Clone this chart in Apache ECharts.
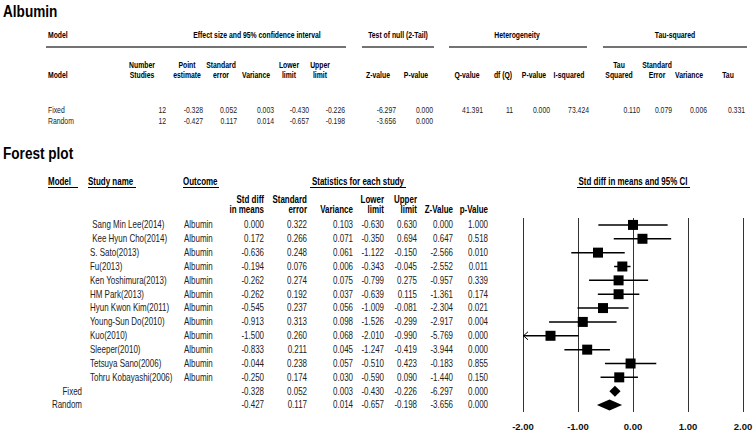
<!DOCTYPE html>
<html><head><meta charset="utf-8">
<script src="https://cdn.jsdelivr.net/npm/echarts@6/dist/echarts.min.js"></script>
<style>html,body{margin:0;padding:0;background:#fff}#c{width:756px;height:434px}</style>
</head><body><div id="c"></div>
<script>
// ---------------- data ----------------
const studyNames = [' Sang Min Lee(2014)', ' Kee Hyun Cho(2014)', 'S. Sato(2013)', 'Fu(2013)', 'Ken Yoshimura(2013)', 'HM Park(2013)', 'Hyun Kwon Kim(2011)', 'Young-Sun Do(2010)', 'Kuo(2010)', 'Sleeper(2010)', 'Tetsuya Sano(2006)', 'Tohru Kobayashi(2006)'];
const outcomes = ['Albumin', 'Albumin', 'Albumin', 'Albumin', 'Albumin', 'Albumin', 'Albumin', 'Albumin', 'Albumin', 'Albumin', 'Albumin', 'Albumin'];
const stdDiff = [0.000, 0.172, -0.636, -0.194, -0.262, -0.262, -0.545, -0.913, -1.500, -0.833, -0.044, -0.250];
const stdErr = [0.322, 0.266, 0.248, 0.076, 0.274, 0.192, 0.237, 0.313, 0.260, 0.211, 0.238, 0.174];
const variance = [0.103, 0.071, 0.061, 0.006, 0.075, 0.037, 0.056, 0.098, 0.068, 0.045, 0.057, 0.030];
const lowerLimit = [-0.630, -0.350, -1.122, -0.343, -0.799, -0.639, -1.009, -1.526, -2.010, -1.247, -0.510, -0.590];
const upperLimit = [0.630, 0.694, -0.150, -0.045, 0.275, 0.115, -0.081, -0.299, -0.990, -0.419, 0.423, 0.090];
const zValue = [0.000, 0.647, -2.566, -2.552, -0.957, -1.361, -2.304, -2.917, -5.769, -3.944, -0.183, -1.440];
const pValue = [1.000, 0.518, 0.010, 0.011, 0.339, 0.174, 0.021, 0.004, 0.000, 0.000, 0.855, 0.150];

const modelNames = ['Fixed', 'Random'];
const modelStudies = [12, 12];
const modelPoint = [-0.328, -0.427];
const modelSE = [0.052, 0.117];
const modelVar = [0.003, 0.014];
const modelLower = [-0.430, -0.657];
const modelUpper = [-0.226, -0.198];
const modelZ = [-6.297, -3.656];
const modelP = [0.000, 0.000];
const heteroValues = [41.391, 11, 0.000, 73.424];     // Q, df, P, I-squared
const tauValues = [0.110, 0.079, 0.006, 0.331];       // Tau^2, SE, Variance, Tau

const axisTickValues = [-2, -1, 0, 1, 2];
const axisTickLabels = ['-2.00', '-1.00', '0.00', '1.00', '2.00'];

const summaryTitle = 'Albumin';
const forestTitle = 'Forest plot';
const summaryGroupHeaders = ['Model', 'Effect size and 95% confidence interval', 'Test of null (2-Tail)', 'Heterogeneity', 'Tau-squared'];
const summaryColHeaders = [['Number', 'Studies'], ['Point', 'estimate'], ['Standard', 'error'], ['Variance'], ['Lower', 'limit'], ['Upper', 'limit'], ['Z-value'], ['P-value'], ['Q-value'], ['df (Q)'], ['P-value'], ['I-squared'], ['Tau', 'Squared'], ['Standard', 'Error'], ['Variance'], ['Tau']];
const forestGroupHeaders = ['Model', 'Study name', 'Outcome', 'Statistics for each study', 'Std diff in means and 95% CI'];
const forestColHeaders = [['Std diff', 'in means'], ['Standard', 'error'], ['Variance'], ['Lower', 'limit'], ['Upper', 'limit'], ['Z-Value'], ['p-Value']];

// ---------------- layout ----------------
const FF = '"Liberation Sans", Arial, Helvetica, sans-serif';
function T(x, y, text, size, bold, align, color, sx) {
  return { type: 'text', x: x, y: y, scaleX: sx || 0.8, silent: true, z: 10,
    style: { text: text, x: 0, y: 0, fontSize: size, fontWeight: bold ? 'bold' : 'normal', fontFamily: FF,
      fill: color || (bold ? '#000' : '#222'), align: align || 'left', verticalAlign: 'middle' } };
}
function L(x1, y1, x2, y2, w, color) {
  return { type: 'line', silent: true, shape: { x1: x1, y1: y1, x2: x2, y2: y2 }, style: { stroke: color || '#000', lineWidth: w || 1 } };
}
const f3 = v => v.toFixed(3);
const TS = 9.5, TSX = 0.72;     // summary table font
const FS = 10.5, FSX = 0.76;    // forest table font

const g = [];
// summary table
g.push(T(3, 11, summaryTitle, 17, true, 'left', '#000', 0.8));
const sgX = [48, 257, 398, 517, 675];
const sgAlign = ['left', 'center', 'center', 'center', 'center'];
summaryGroupHeaders.forEach((h, i) => g.push(T(sgX[i], 35, h, TS, true, sgAlign[i], '#000', TSX)));
[[46, 346], [362, 434], [449, 587], [603, 747]].forEach(s => g.push(L(s[0], 47, s[1], 47, 1.5, '#444')));
g.push(T(48, 75, 'Model', TS, true, 'left', '#000', TSX));
const scX = [142, 187, 221, 256, 289, 320, 378, 416, 467, 503, 534, 569, 619, 657, 689, 728];
summaryColHeaders.forEach((h, i) => {
  if (h.length === 2) { g.push(T(scX[i], 65, h[0], TS, true, 'center', '#000', TSX)); g.push(T(scX[i], 75.5, h[1], TS, true, 'center', '#000', TSX)); }
  else g.push(T(scX[i], 75.5, h[0], TS, true, 'center', '#000', TSX));
});
const srX = [166, 203, 237, 274, 309, 345, 396, 433, 483, 513, 550, 589, 640, 672, 707, 745];
const rowY = [110.5, 121];
modelNames.forEach((m, j) => {
  g.push(T(48, rowY[j], m, TS, false, 'left', '#222', TSX));
  const vals = [String(modelStudies[j]), f3(modelPoint[j]), f3(modelSE[j]), f3(modelVar[j]), f3(modelLower[j]), f3(modelUpper[j]), f3(modelZ[j]), f3(modelP[j])];
  if (j === 0) {
    vals.push(f3(heteroValues[0]), String(heteroValues[1]), f3(heteroValues[2]), f3(heteroValues[3]));
    tauValues.forEach(v => vals.push(f3(v)));
  }
  vals.forEach((v, k) => g.push(T(srX[k], rowY[j], v, TS, false, 'right', '#222', TSX)));
});

// forest headers
g.push(T(3, 153, forestTitle, 17, true, 'left', '#000', 0.8));
const fgX = [48, 88, 183, 358, 633];
const fgAlign = ['left', 'left', 'left', 'center', 'center'];
forestGroupHeaders.forEach((h, i) => g.push(T(fgX[i], 181.5, h, FS, true, fgAlign[i], '#000', FSX)));
[[48, 78], [88, 136], [183, 219], [310, 406], [577, 690]].forEach(s => g.push(L(s[0], 187.5, s[1], 187.5, 1, '#000')));
const colRight = [264, 307, 353, 384, 417, 453, 488];
forestColHeaders.forEach((h, i) => {
  if (h.length === 2) { g.push(T(colRight[i], 199.5, h[0], FS, true, 'right', '#000', FSX)); g.push(T(colRight[i], 209.5, h[1], FS, true, 'right', '#000', FSX)); }
  else g.push(T(colRight[i], 209.5, h[0], FS, true, 'right', '#000', FSX));
});

// forest table rows (positioned on the chart's row axis)
const forestRows = studyNames.map((n, i) => ({ label: n, outcome: outcomes[i], model: false,
  vals: [stdDiff[i], stdErr[i], variance[i], lowerLimit[i], upperLimit[i], zValue[i], pValue[i]] }))
  .concat(modelNames.map((n, j) => ({ label: n, outcome: '', model: true,
  vals: [modelPoint[j], modelSE[j], modelVar[j], modelLower[j], modelUpper[j], modelZ[j], modelP[j]] })));

const chart = echarts.init(document.getElementById('c'), null, { renderer: 'svg' });
const axisMin = axisTickValues[0], axisMax = axisTickValues[axisTickValues.length - 1];

chart.setOption({
  animation: false,
  backgroundColor: '#fff',
  graphic: { elements: g },
  grid: { left: 523, right: 13, top: 218, height: 194 },
  xAxis: { type: 'value', min: axisMin, max: axisMax, interval: 1,
    axisLine: { show: false }, axisTick: { show: false },
    splitLine: { show: true, lineStyle: { color: '#333', width: 1 } },
    axisLabel: { margin: 9, fontSize: 9.5, fontWeight: 'bold', fontFamily: FF, color: '#111',
      formatter: v => axisTickLabels[axisTickValues.indexOf(Math.round(v))] } },
  yAxis: { type: 'value', min: -0.5, max: forestRows.length - 0.5, inverse: true, show: false },
  series: [
    { type: 'custom', name: 'table', silent: true, clip: false,
      data: forestRows.map((r, i) => [0, i]),
      renderItem: (params, api) => {
        const i = params.dataIndex, r = forestRows[i];
        const y = api.coord([0, i])[1];
        const ch = [];
        if (r.model) ch.push(T(82, y, r.label, FS, false, 'right', '#222', FSX));
        else { ch.push(T(90, y, r.label, FS, false, 'left', '#222', FSX)); ch.push(T(184, y, r.outcome, FS, false, 'left', '#222', FSX)); }
        r.vals.forEach((v, k) => ch.push(T(colRight[k], y, f3(v), FS, false, 'right', '#222', FSX)));
        return { type: 'group', children: ch };
      } },
    { type: 'custom', name: 'ci', silent: true, clip: false,
      data: studyNames.map((n, i) => [lowerLimit[i], upperLimit[i], i]),
      renderItem: (params, api) => {
        const lo = api.value(0), hi = api.value(1), row = api.value(2);
        const p1 = api.coord([Math.max(lo, axisMin), row]);
        const p2 = api.coord([Math.min(hi, axisMax), row]);
        const ch = [{ type: 'line', shape: { x1: p1[0], y1: p1[1], x2: p2[0], y2: p2[1] }, style: { stroke: '#000', lineWidth: 1.5 } }];
        if (lo < axisMin) ch.push({ type: 'polyline', shape: { points: [[p1[0] + 5, p1[1] - 4], [p1[0] + 0.5, p1[1]], [p1[0] + 5, p1[1] + 4]] }, style: { stroke: '#000', lineWidth: 1, fill: null } });
        return { type: 'group', children: ch };
      } },
    { type: 'scatter', name: 'effect', silent: true, symbol: 'rect', symbolSize: 10, z: 5,
      itemStyle: { color: '#000', opacity: 1 },
      data: studyNames.map((n, i) => [stdDiff[i], i]) },
    { type: 'custom', name: 'summary', silent: true, clip: false,
      data: modelNames.map((n, j) => [modelLower[j], modelPoint[j], modelUpper[j], studyNames.length + j]),
      renderItem: (params, api) => {
        const row = api.value(3);
        const a = api.coord([api.value(0), row]), b = api.coord([api.value(1), row]), c = api.coord([api.value(2), row]);
        const h = 5.5;
        return { type: 'polygon', shape: { points: [[a[0], a[1]], [b[0], b[1] - h], [c[0], c[1]], [b[0], b[1] + h]] }, style: { fill: '#000' } };
      } }
  ]
});
</script></body></html>
